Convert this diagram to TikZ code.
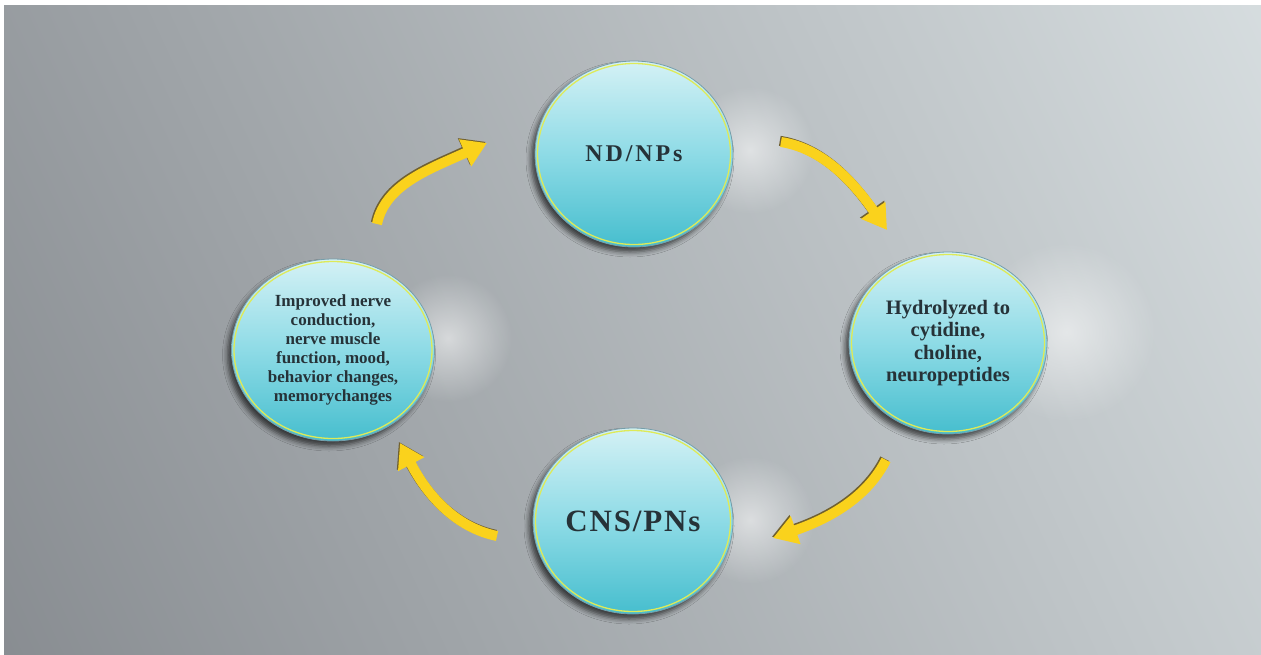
\documentclass[tikz,border=0pt]{standalone}
\usepackage{fontspec}
\setmainfont{Liberation Serif}
\usetikzlibrary{shapes.geometric,arrows.meta,fadings,shadows.blur}
\definecolor{bgdark}{RGB}{126,130,135}
\definecolor{bglight}{RGB}{224,231,233}
\definecolor{disctop}{RGB}{212,241,245}
\definecolor{discmid}{RGB}{142,219,230}
\definecolor{discbot}{RGB}{70,190,206}
\definecolor{discrim}{RGB}{118,158,170}
\definecolor{ringc}{RGB}{222,234,88}
\definecolor{txt}{RGB}{38,50,56}
\definecolor{arrowy}{RGB}{250,210,28}
\definecolor{arrowsh}{RGB}{112,96,48}
\tikzfading[name=glowfade, inner color=transparent!0, outer color=transparent!100]
\begin{document}
\begin{tikzpicture}[x=1pt,y=-1pt,
  disc/.style={ellipse, draw=discrim, line width=0.8pt, top color=disctop, bottom color=discbot, middle color=discmid,
    inner sep=0pt, text=txt, align=center,
    blur shadow={shadow xshift=-4pt, shadow yshift=-5pt, shadow blur radius=5pt, shadow opacity=65}},
  ring/.style={draw=ringc, line width=1.3pt},
  flow/.style={line width=10pt, draw=arrowy, -{Triangle[length=24pt,width=28pt]}},
  flowshadow/.style={line width=10pt, draw=arrowsh, -{Triangle[length=24pt,width=28pt]}, transform canvas={shift={(-1.2pt,1.2pt)}}},
  glow/.style={fill=white, path fading=glowfade, fill opacity=0.55}
]
\useasboundingbox (0,0) rectangle (1261,654);
\fill[white] (0,0) rectangle (1261,654);
\begin{scope}
  \clip (4,5) rectangle (1261,654);
  \begin{scope}[transform canvas={rotate around={25:(632,330)}}]
    \shade[left color=bgdark, right color=bglight] (-268,-570) rectangle (1532,1230);
  \end{scope}
  % soft glows
  \fill[glow] (750,150) circle (64);
  \fill[glow] (1066,332) circle (90);
  \fill[glow] (448,338) circle (64);
  \fill[glow] (750,520) circle (64);
\end{scope}

% circles
\node[disc, minimum width=198, minimum height=186,
  font={\bfseries\fontsize{24}{28}\selectfont\addfontfeatures{LetterSpace=12}}] (nd) at (634,154) {ND/NPs};
\node[disc, minimum width=198, minimum height=182,
  font={\bfseries\fontsize{20.5}{22.5}\selectfont}] (hy) at (948,343)
  {Hydrolyzed to\\cytidine,\\choline,\\neuropeptides};
\node[disc, minimum width=200, minimum height=186,
  font={\bfseries\fontsize{31}{36}\selectfont\addfontfeatures{LetterSpace=6}}] (cns) at (633,521) {CNS/PNs};
\node[disc, minimum width=203, minimum height=182,
  font={\bfseries\fontsize{17}{19}\selectfont}] (imp) at (333,350)
  {Improved nerve\\conduction,\\nerve muscle\\function, mood,\\behavior changes,\\memorychanges};

\draw[ring] (nd.center) ellipse [x radius=96.5, y radius=90.5];
\draw[ring] (hy.center) ellipse [x radius=96.5, y radius=88.5];
\draw[ring] (cns.center) ellipse [x radius=97.5, y radius=90.5];
\draw[ring] (imp.center) ellipse [x radius=99, y radius=88.5];

% arrow end points
\coordinate (a1s) at (781,142);
\coordinate (a1b) at (873.2,210.3);
\coordinate (a1e) at (887,230);
\coordinate (a2s) at (886,460);
\coordinate (a2b) at (795.7,530.1);
\coordinate (a2e) at (773,538);
\coordinate (a3s) at (497,536);
\coordinate (a3b) at (411.2,464.2);
\coordinate (a3e) at (400,443);
\coordinate (a4s) at (377,224);
\coordinate (a4b) at (465.2,152.9);
\coordinate (a4e) at (487,143);

\foreach \st in {flowshadow,flow}{
  \draw[\st] (a1s) .. controls (820,148) and (850.5,178) .. (a1b) -- (a1e);
  \draw[\st] (a2s) .. controls (868.3,495.3) and (833,517.1) .. (a2b) -- (a2e);
  \draw[\st] (a3s) .. controls (458.5,528.1) and (429.5,499) .. (a3b) -- (a3e);
  \draw[\st] (a4s) .. controls (385,184.9) and (428.9,169.4) .. (a4b) -- (a4e);
}
\end{tikzpicture}
\end{document}
